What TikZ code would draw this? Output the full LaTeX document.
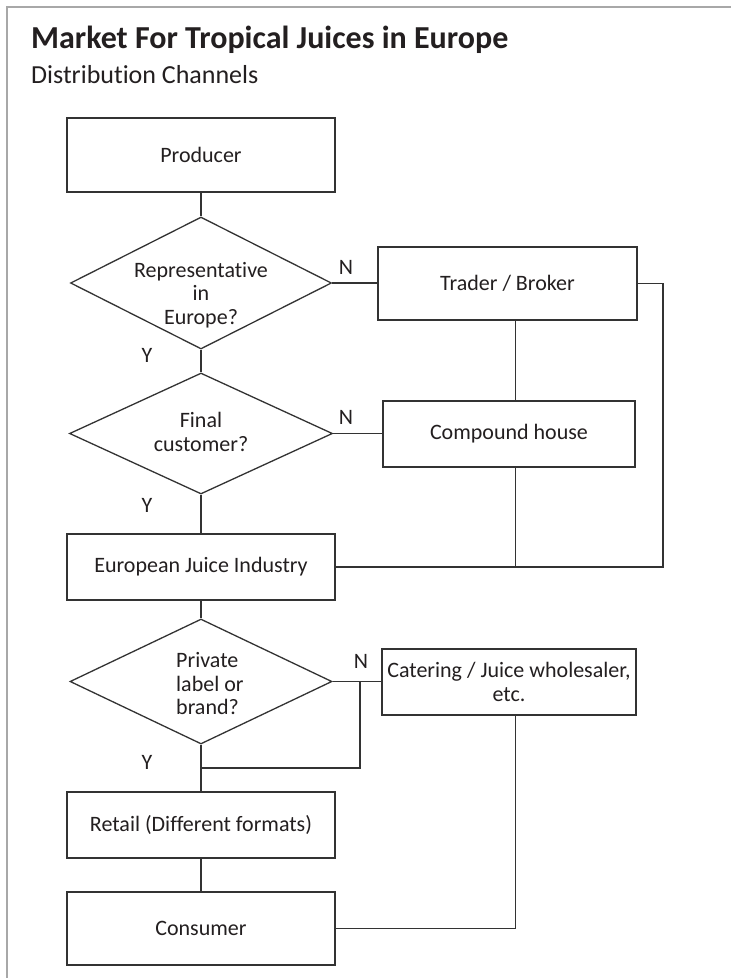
\documentclass[tikz,border=0pt]{standalone}
\usepackage{fontspec}
\setmainfont{Carlito}[Ligatures={NoCommon,NoRare}]
\usetikzlibrary{shapes.geometric}
\definecolor{ink}{HTML}{231F20}
\definecolor{linec}{HTML}{333333}
\definecolor{framec}{HTML}{A8A8A8}
\begin{document}
\begin{tikzpicture}[x=1pt,y=-1pt,
  lbl/.style={font=\fontsize{22}{23.5}\selectfont, text=ink},
  box/.style={draw=linec, line width=1.3pt, rectangle, inner sep=0pt, lbl},
  dia/.style={draw=linec, line width=1.3pt, diamond, inner sep=0pt},
  conn/.style={draw=linec, line width=1.3pt},
  yn/.style={lbl, inner sep=0pt}]
\useasboundingbox (0,0) rectangle (731,978);
\fill[white] (0,0) rectangle (731,978);
% frame
\draw[framec, line width=2pt] (6.7,978) -- (6.7,7.3) -- (731,7.3);
% title
\node[anchor=base west, inner sep=0pt, text=ink, font=\fontsize{32}{36}\selectfont\bfseries] (title) at (31,48) {Market For Tropical Juices in Europe};
\node[anchor=base west, inner sep=0pt, text=ink, font=\fontsize{26}{30}\selectfont] (subtitle) at (31,83) {Distribution Channels};
% left column
\node[box, minimum width=268pt, minimum height=74pt] (producer) at (201,155) {Producer};
\node[dia, minimum width=261pt, minimum height=132pt] (d1) at (201,283) {};
\node[lbl, align=center, inner sep=0pt] (d1t) at (201,295) {Representative\\in\\Europe?};
\node[dia, minimum width=263pt, minimum height=121pt] (d2) at (201,433.5) {};
\node[lbl, align=center, inner sep=0pt] (d2t) at (201,432) {Final\\customer?};
\node[box, minimum width=268pt, minimum height=66pt] (eji) at (201,567) {European Juice Industry};
\node[dia, minimum width=262pt, minimum height=125pt] (d3) at (201,681.5) {};
\node[lbl, align=left, anchor=west, inner sep=0pt] (d3t) at (176,684) {Private\\label or\\brand?};
\node[box, minimum width=268pt, minimum height=66pt] (retail) at (201,825) {Retail (Different formats)};
\node[box, minimum width=268pt, minimum height=73pt] (consumer) at (201,928.5) {Consumer};
% right column
\node[box, minimum width=259pt, minimum height=73pt] (trader) at (507.5,283.5) {Trader / Broker};
\node[box, minimum width=252pt, minimum height=66pt] (compound) at (509,434) {Compound house};
\node[box, minimum width=254pt, minimum height=66pt, align=center] (catering) at (509,682) {Catering / Juice wholesaler,\\etc.};
% labels
\node[yn] (n1) at (346,267) {N};
\node[yn] (n2) at (346,417) {N};
\node[yn] (n3) at (361,661) {N};
\node[yn] (y1) at (147,355) {Y};
\node[yn] (y2) at (147,505) {Y};
\node[yn] (y3) at (147,762) {Y};
% helper coordinates
\coordinate (vx) at (515.5,0);
\coordinate (rj) at (663,567);
\coordinate (j3) at (360,681.5);
\coordinate (j4) at (201,768);
% connectors
\draw[conn] (producer.south) -- (d1.north);
\draw[conn] (d1.south) -- (d2.north);
\draw[conn] (d2.south) -- (eji.north);
\draw[conn] (eji.south) -- (d3.north);
\draw[conn] (d3.south) -- (retail.north);
\draw[conn] (retail.south) -- (consumer.north);
\draw[conn] (d1.east) -- (d1.east -| trader.west);
\draw[conn] (d2.east) -- (d2.east -| compound.west);
\draw[conn] (d3.east) -- (d3.east -| catering.west);
\draw[conn] (trader.east) -| (rj) -- (eji.east);
\draw[conn] (trader.south -| vx) -- (compound.north -| vx);
\draw[conn] (compound.south -| vx) -- (vx |- rj);
\draw[conn] (j3) |- (j4);
\draw[conn] (catering.south -| vx) |- (consumer.east);
\end{tikzpicture}
\end{document}
